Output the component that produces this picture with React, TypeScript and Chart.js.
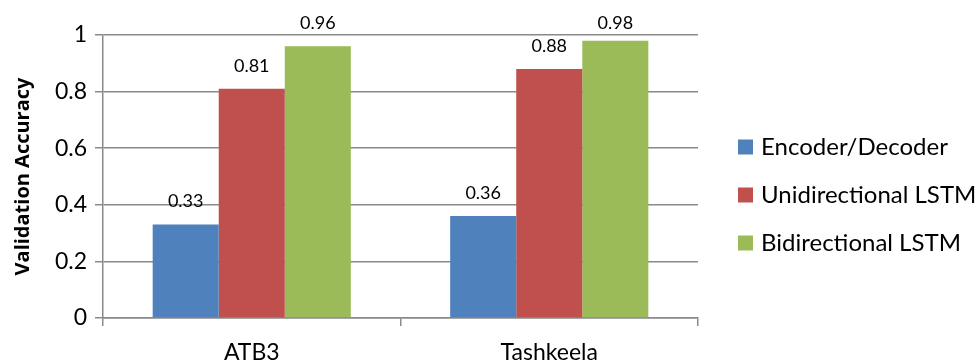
import React, { useEffect, useRef } from "react";
import { Chart, registerables } from "chart.js";

Chart.register(...registerables);

const categories = ["ATB3", "Tashkeela"];
const seriesNames = ["Encoder/Decoder", "Unidirectional LSTM", "Bidirectional LSTM"];
const encoderDecoder = [0.33, 0.36];
const unidirectionalLstm = [0.81, 0.88];
const bidirectionalLstm = [0.96, 0.98];
const seriesColors = ["#4F81BD", "#C0504D", "#9BBB59"];
const yTicks = { min: 0, max: 1, step: 0.2 };

const FONT = 'Lato, "Open Sans", sans-serif';
const GRID = "#8a8a8a";

// Value labels above each bar
const valueLabels = {
  id: "valueLabels",
  afterDatasetsDraw(chart: any) {
    const { ctx } = chart;
    ctx.save();
    ctx.font = `18px ${FONT}`;
    ctx.fillStyle = "#000";
    ctx.textAlign = "center";
    ctx.textBaseline = "middle";
    chart.data.datasets.forEach((ds: any, i: number) => {
      const meta = chart.getDatasetMeta(i);
      meta.data.forEach((bar: any, j: number) => {
        const y = Math.max(bar.y - 23, 23);
        ctx.fillText(String(ds.data[j]), bar.x, y);
      });
    });
    ctx.restore();
  },
};

// Legend drawn to the right of the plot
const sideLegend = {
  id: "sideLegend",
  afterDraw(chart: any) {
    const { ctx, chartArea } = chart;
    const x = chartArea.right + 40;
    ctx.save();
    ctx.font = `24px ${FONT}`;
    ctx.textBaseline = "middle";
    ctx.textAlign = "left";
    chart.data.datasets.forEach((ds: any, i: number) => {
      const cy = chartArea.top + 112 + i * 48;
      ctx.fillStyle = ds.backgroundColor;
      ctx.fillRect(x, cy - 7.5, 15, 15);
      ctx.fillStyle = "#000";
      ctx.fillText(ds.label, x + 23, cy);
    });
    ctx.restore();
  },
};

export default function App() {
  const canvasRef = useRef<HTMLCanvasElement | null>(null);

  useEffect(() => {
    if (!canvasRef.current) return;
    const values = [encoderDecoder, unidirectionalLstm, bidirectionalLstm];
    const chart = new Chart(canvasRef.current, {
      type: "bar",
      data: {
        labels: categories,
        datasets: seriesNames.map((name, i) => ({
          label: name,
          data: values[i],
          backgroundColor: seriesColors[i],
          borderWidth: 0,
          categoryPercentage: 0.666,
          barPercentage: 1,
        })),
      },
      options: {
        responsive: true,
        maintainAspectRatio: false,
        animation: false,
        layout: { padding: { top: 35, right: 282, bottom: 0, left: 0 } },
        plugins: {
          legend: { display: false },
          tooltip: { enabled: false },
        },
        scales: {
          x: {
            afterFit(scale: any) {
              scale.height = 45;
            },
            grid: {
              offset: true,
              drawOnChartArea: false,
              drawTicks: true,
              tickLength: 8,
              color: GRID,
              lineWidth: 1.5,
            },
            border: { display: true, color: GRID, width: 1.5 },
            ticks: {
              color: "#000",
              font: { family: FONT, size: 23 },
              padding: 13,
            },
          },
          y: {
            min: yTicks.min,
            max: yTicks.max,
            afterFit(scale: any) {
              scale.width = 103;
            },
            grid: {
              drawTicks: true,
              tickLength: 8,
              color: GRID,
              lineWidth: 1.5,
            },
            border: { display: true, color: GRID, width: 1.5 },
            ticks: {
              stepSize: yTicks.step,
              color: "#000",
              font: { family: FONT, size: 23 },
              padding: 8,
              callback: (v: any) => String(Number(Number(v).toFixed(2))),
            },
            title: {
              display: true,
              text: "Validation Accuracy",
              color: "#000",
              font: { family: '"Open Sans", sans-serif', size: 20, weight: "bold" },
              padding: { top: 11, bottom: 0 },
            },
          },
        },
      },
      plugins: [valueLabels, sideLegend],
    });
    return () => chart.destroy();
  }, []);

  return (
    <div style={{ position: "fixed", left: 0, top: 0, width: 980, height: 363, background: "#fff" }}>
      <canvas ref={canvasRef} />
    </div>
  );
}
